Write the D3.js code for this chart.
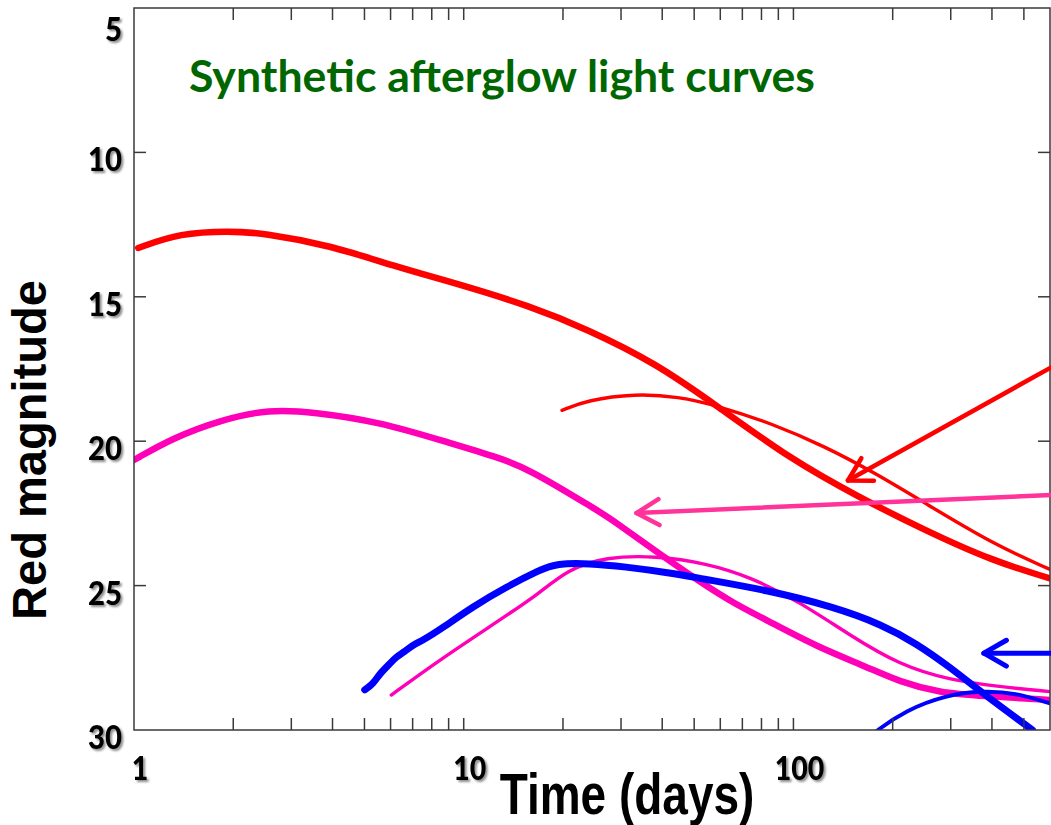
<!DOCTYPE html>
<html>
<head>
<meta charset="utf-8">
<script src="https://cdn.jsdelivr.net/npm/d3@7"></script>
<style>
  html, body { margin: 0; padding: 0; background: #fff; }
  svg { display: block; }
</style>
</head>
<body>
<script>
// Light curves: [time in days, red magnitude]
const redThick = [[1.03,13.31],[1.38,12.79],[1.95,12.72],[2.46,12.79],[3.92,13.21],[6.26,13.97],[9.93,14.6],[15.85,15.32],[23.7,16.12],[38.1,17.29],[58.4,18.76],[98.2,20.63],[156.8,21.92],[252,23.1],[403,24.15],[600,24.75]];
const redThin = [[19.87,18.93],[23.7,18.58],[33,18.35],[44.9,18.46],[58.4,18.76],[86.6,19.4],[123.9,20.17],[176.7,21.1],[252,22.16],[403,23.56],[600,24.44]];
const pinkThick = [[1.0,20.65],[1.31,19.89],[1.82,19.27],[2.58,18.89],[3.49,18.99],[5.57,19.33],[8.88,20.03],[12.6,20.55],[15.6,20.93],[25.4,22.39],[28.3,22.73],[38.1,23.8],[51.9,24.86],[65.6,25.6],[82.8,26.19],[117.5,27.11],[166.6,27.81],[209.9,28.33],[277.5,28.71],[374.7,28.82],[600,28.96]];
const pinkThin = [[6.03,28.79],[8.44,27.58],[12.0,26.42],[17.0,25.27],[20.5,24.46],[27.0,24.0],[38.4,23.97],[54.5,24.23],[73.6,24.69],[104.4,25.56],[147.8,26.71],[209.9,27.75],[297.5,28.27],[420.6,28.5],[600,28.67]];
const blueThick = [[5.01,28.61],[5.3,28.42],[5.57,28.04],[5.95,27.72],[6.25,27.46],[6.6,27.3],[7.0,27.06],[7.5,26.9],[8.44,26.54],[10.65,25.73],[13.5,25.04],[17.0,24.46],[19.1,24.23],[24.1,24.23],[30.5,24.34],[43.1,24.57],[51.9,24.75],[82.8,25.15],[132.1,25.73],[186.5,26.36],[235.5,27.0],[297.5,27.81],[374.7,28.73],[531,30.0]];
const blueThin = [[165,30.4],[176.4,30.06],[219.6,29.31],[290.5,28.79],[374.7,28.64],[470,28.71],[600,29.08]];

// Annotation arrows: [tail, tip] in [days, magnitude]
const redArrow = [[610,17.42],[146.3,21.36]];
const pinkArrow = [[610,21.86],[33.4,22.49]];
const blueArrow = [[610,27.34],[378,27.34]];

const xTickLabels = [1, 10, 100];
const yTickLabels = [5, 10, 15, 20, 25, 30];

const titleText = "Synthetic afterglow light curves";
const xTitle = "Time (days)";
const yTitle = "Red magnitude";

const W = 1051, H = 825;
const svg = d3.select("body").append("svg").attr("width", W).attr("height", H);

const defs = svg.append("defs");
const shadow = defs.append("filter").attr("id", "lblShadow")
  .attr("x", "-20%").attr("y", "-20%").attr("width", "150%").attr("height", "150%");
shadow.append("feDropShadow").attr("dx", 2).attr("dy", 2).attr("stdDeviation", 1.3)
  .attr("flood-color", "#000").attr("flood-opacity", 0.45);

const x = d3.scaleLog().domain([1, 600]).range([134, 1050]);
const y = d3.scaleLinear().domain([5, 30]).range([8, 730]);
const [x0, x1] = x.range(), [y0, y1] = y.range();

defs.append("clipPath").attr("id", "plotClip").append("rect")
  .attr("x", x0).attr("y", y0).attr("width", x1 - x0).attr("height", y1 - y0);

// Curves
const line = d3.line().x(d => x(d[0])).y(d => y(d[1])).curve(d3.curveBasis);
const curves = [
  { data: redThick,  color: "#ff0000", w: 6.5 },
  { data: redThin,   color: "#ff0000", w: 3.4 },
  { data: pinkThick, color: "#ff00b8", w: 6.5 },
  { data: pinkThin,  color: "#ff00b8", w: 3.4 },
  { data: blueThick, color: "#0000ff", w: 7 },
  { data: blueThin,  color: "#0000ff", w: 4 }
];
const gCurves = svg.append("g").attr("clip-path", "url(#plotClip)");
curves.forEach(c => {
  gCurves.append("path").attr("d", line(c.data)).attr("fill", "none")
    .attr("stroke", c.color).attr("stroke-width", c.w)
    .attr("stroke-linecap", "round").attr("stroke-linejoin", "round");
});

// Frame and inward ticks on all four sides
const frame = svg.append("g").attr("stroke", "#3a3a3a").attr("stroke-width", 1.5).attr("fill", "none");
frame.append("rect").attr("x", x0).attr("y", y0).attr("width", x1 - x0).attr("height", y1 - y0);
const tickLen = 12;
const xt = x.ticks().filter(v => v > 1 && v < 600);
xt.forEach(v => {
  frame.append("line").attr("x1", x(v)).attr("x2", x(v)).attr("y1", y1).attr("y2", y1 - tickLen);
  frame.append("line").attr("x1", x(v)).attr("x2", x(v)).attr("y1", y0).attr("y2", y0 + tickLen);
});
const yt = y.ticks(5).filter(v => v > 5 && v < 30);
yt.forEach(v => {
  frame.append("line").attr("x1", x0).attr("x2", x0 + tickLen).attr("y1", y(v)).attr("y2", y(v));
  frame.append("line").attr("x1", x1).attr("x2", x1 - tickLen).attr("y1", y(v)).attr("y2", y(v));
});

// Arrows
function arrow(pts, color, w) {
  const [tx, ty] = [x(pts[0][0]), y(pts[0][1])];
  const [hx, hy] = [x(pts[1][0]), y(pts[1][1])];
  const ang = Math.atan2(ty - hy, tx - hx);
  const L = 26, a = 0.52;
  const b1 = [hx + L * Math.cos(ang + a), hy + L * Math.sin(ang + a)];
  const b2 = [hx + L * Math.cos(ang - a), hy + L * Math.sin(ang - a)];
  const g = svg.append("g").attr("stroke", color).attr("stroke-width", w)
    .attr("fill", "none").attr("stroke-linecap", "round").attr("stroke-linejoin", "round");
  g.append("line").attr("x1", tx).attr("y1", ty).attr("x2", hx).attr("y2", hy);
  g.append("polyline").attr("points", [b1, [hx, hy], b2].map(p => p.join(",")).join(" "));
}
arrow(redArrow, "#ff0000", 4.5);
arrow(pinkArrow, "#ff3399", 4.5);
arrow(blueArrow, "#0000ff", 5);

// Tick labels
function fitText(sel, width) {
  sel.attr("textLength", width).attr("lengthAdjust", "spacingAndGlyphs");
}
const lblFont = "Lato, 'Open Sans', sans-serif";
yTickLabels.forEach(v => {
  const t = svg.append("text").attr("x", 122).attr("y", Math.max(y(v) + 6, 28))
    .attr("text-anchor", "end").attr("dominant-baseline", "central")
    .attr("font-family", lblFont).attr("font-weight", 900).attr("font-size", 33)
    .attr("fill", "#000").attr("filter", "url(#lblShadow)").text(v);
  fitText(t, String(v).length * 17);
});
xTickLabels.forEach(v => {
  const t = svg.append("text").attr("x", x(v) + 6).attr("y", 780)
    .attr("text-anchor", "middle")
    .attr("font-family", lblFont).attr("font-weight", 900).attr("font-size", 33)
    .attr("fill", "#000").attr("filter", "url(#lblShadow)").text(v);
  fitText(t, String(v).length * 16.5);
});

// Titles
const tt = svg.append("text").attr("x", 502).attr("y", 92).attr("text-anchor", "middle")
  .attr("font-family", lblFont).attr("font-weight", 700).attr("font-size", 43)
  .attr("fill", "#006600").text(titleText);
fitText(tt, 626);

// x-axis title: narrow, tall lettering
svg.append("text").attr("transform", "translate(627,814) scale(1,1.26)")
  .attr("text-anchor", "middle")
  .attr("font-family", "'Liberation Sans', Arial, sans-serif").attr("font-weight", 700)
  .attr("font-size", 46).attr("fill", "#000").text(xTitle);

const yt2 = svg.append("text").attr("transform", "translate(46,450) rotate(-90)")
  .attr("text-anchor", "middle")
  .attr("font-family", "'Liberation Sans', Arial, sans-serif").attr("font-weight", 700)
  .attr("font-size", 48).attr("fill", "#000").text(yTitle);
fitText(yt2, 340);
</script>
</body>
</html>
